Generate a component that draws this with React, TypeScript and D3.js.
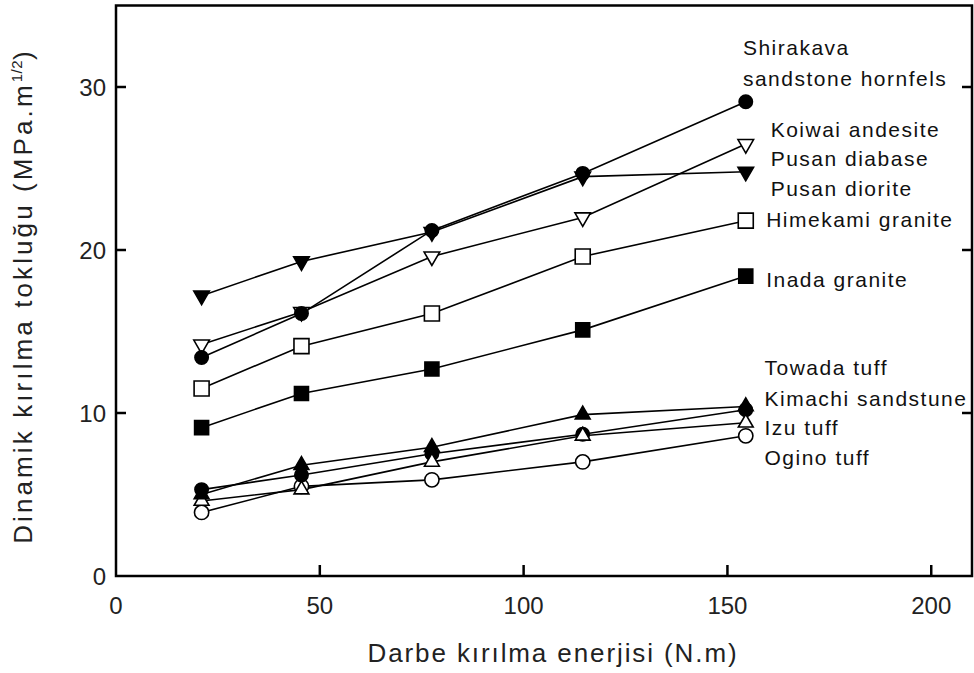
import React from 'react';
import * as d3 from 'd3';

// impact energy (N.m) for every test
const energy = [21, 45.5, 77.5, 114.5, 154.5];

// dynamic fracture toughness (MPa.m^1/2)
const shirakava = [13.4, 16.1, 21.2, 24.7, 29.1];
const koiwai = [14.2, 16.2, 19.6, 22.0, 26.5];
const pusanDiabase = [17.2, 19.3, 21.1, 24.5, 24.8];
const himekami = [11.5, 14.1, 16.1, 19.6, 21.8];
const inada = [9.1, 11.2, 12.7, 15.1, 18.4];
const towada = [5.3, 6.2, 7.5, 8.7, 10.2];
const kimachi = [5.0, 6.8, 7.9, 9.9, 10.4];
const izu = [4.6, 5.3, 7.0, 8.6, 9.4];
const ogino = [3.9, 5.5, 5.9, 7.0, 8.6];

const xTicks = [0, 50, 100, 150, 200];
const yTicks = [0, 10, 20, 30];

const labels = [
  'Shirakava',
  'sandstone hornfels',
  'Koiwai andesite',
  'Pusan diabase',
  'Pusan diorite',
  'Himekami granite',
  'Inada granite',
  'Towada tuff',
  'Kimachi sandstune',
  'Izu tuff',
  'Ogino tuff',
];

const W = 974;
const H = 673;
const margin = { top: 5.5, right: 2, bottom: 97, left: 116 };
const innerW = W - margin.left - margin.right;
const innerH = H - margin.top - margin.bottom;

const x = d3.scaleLinear().domain([0, 210]).range([0, innerW]);
const y = d3.scaleLinear().domain([0, 35]).range([innerH, 0]);

type Marker = 'circle' | 'ocircle' | 'square' | 'osquare' | 'tri' | 'otri' | 'dtri' | 'odtri';

const series: { name: string; values: number[]; marker: Marker }[] = [
  { name: 'Inada granite', values: inada, marker: 'square' },
  { name: 'Himekami granite', values: himekami, marker: 'osquare' },
  { name: 'Koiwai andesite', values: koiwai, marker: 'odtri' },
  { name: 'Shirakava sandstone hornfels', values: shirakava, marker: 'circle' },
  { name: 'Pusan diabase', values: pusanDiabase, marker: 'dtri' },
  { name: 'Ogino tuff', values: ogino, marker: 'ocircle' },
  { name: 'Towada tuff', values: towada, marker: 'circle' },
  { name: 'Izu tuff', values: izu, marker: 'otri' },
  { name: 'Kimachi sandstune', values: kimachi, marker: 'tri' },
];

const markerPath = (m: Marker) => {
  if (m === 'circle' || m === 'ocircle') return d3.symbol(d3.symbolCircle, m === 'circle' ? 140 : 160)()!;
  if (m === 'square' || m === 'osquare') return d3.symbol(d3.symbolSquare, m === 'square' ? 196 : 225)()!;
  return d3.symbol(d3.symbolTriangle, m === 'tri' || m === 'otri' ? 95 : 105)()!;
};

const line = d3
  .line<number>()
  .x((_, i) => x(energy[i]))
  .y((d) => y(d));

// label anchor (x in energy units, y in toughness units)
const labelPos = [
  [153.8, 32.4],
  [153.8, 30.5],
  [160.6, 27.4],
  [160.6, 25.6],
  [160.6, 23.8],
  [159.5, 21.9],
  [159.5, 18.2],
  [159.1, 12.8],
  [159.1, 10.9],
  [159.1, 9.1],
  [159.1, 7.3],
];

const font = '"Liberation Sans", Arial, sans-serif';

export default function App() {
  return (
    <svg
      width={W}
      height={H}
      style={{ position: 'absolute', left: 0, top: 0, background: '#fff' }}
      fontFamily={font}
    >
      <g transform={`translate(${margin.left},${margin.top})`}>
        {/* series lines */}
        {series.map((s) => (
          <path key={s.name} d={line(s.values)!} fill="none" stroke="#000" strokeWidth={1.6} />
        ))}
        {/* markers */}
        {series.map((s) =>
          s.values.map((v, i) => {
            const open = s.marker.startsWith('o');
            const down = s.marker.includes('dtri');
            return (
              <path
                key={s.name + i}
                d={markerPath(s.marker)}
                transform={`translate(${x(energy[i])},${y(v)})${down ? ' rotate(180)' : ''}`}
                fill={open ? '#fff' : '#000'}
                stroke="#000"
                strokeWidth={1.6}
              />
            );
          })
        )}

        {/* frame */}
        <rect x={0} y={0} width={innerW} height={innerH} fill="none" stroke="#000" strokeWidth={2.5} />

        {/* y ticks */}
        {yTicks.map((t) => (
          <g key={'y' + t}>
            {t > 0 && <line x1={0} x2={10} y1={y(t)} y2={y(t)} stroke="#000" strokeWidth={2.5} />}
            {t > 0 && <line x1={innerW} x2={innerW - 10} y1={y(t)} y2={y(t)} stroke="#000" strokeWidth={2.5} />}
            <text x={-10} y={y(t) + 8.5} textAnchor="end" fontSize={24} fill="#222">
              {t}
            </text>
          </g>
        ))}

        {/* x ticks */}
        {xTicks.map((t) => (
          <g key={'x' + t}>
            {t > 0 && <line x1={x(t)} x2={x(t)} y1={innerH} y2={innerH - 11} stroke="#000" strokeWidth={2.5} />}
            <text x={x(t)} y={innerH + 38} textAnchor="middle" fontSize={24} fill="#222">
              {t}
            </text>
          </g>
        ))}

        {/* axis titles */}
        <text
          x={437}
          y={innerH + 86}
          textAnchor="middle"
          fontSize={26}
          letterSpacing={1.9}
          fill="#222"
        >
          Darbe kırılma enerjisi (N.m)
        </text>
        <text
          transform={`translate(${-84},${290.5}) rotate(-90)`}
          textAnchor="middle"
          fontSize={26}
          letterSpacing={3.1}
          fill="#222"
        >
          Dinamik kırılma tokluğu (MPa.m
          <tspan dy={-10} fontSize={15} letterSpacing={0.5}>
            1/2
          </tspan>
          <tspan dy={10}>)</tspan>
        </text>

        {/* series labels */}
        {labels.map((l, i) => (
          <text
            key={l}
            x={x(labelPos[i][0])}
            y={y(labelPos[i][1]) + 7.5}
            fontSize={21}
            letterSpacing={1.5}
            fill="#111"
          >
            {l}
          </text>
        ))}
      </g>
    </svg>
  );
}
